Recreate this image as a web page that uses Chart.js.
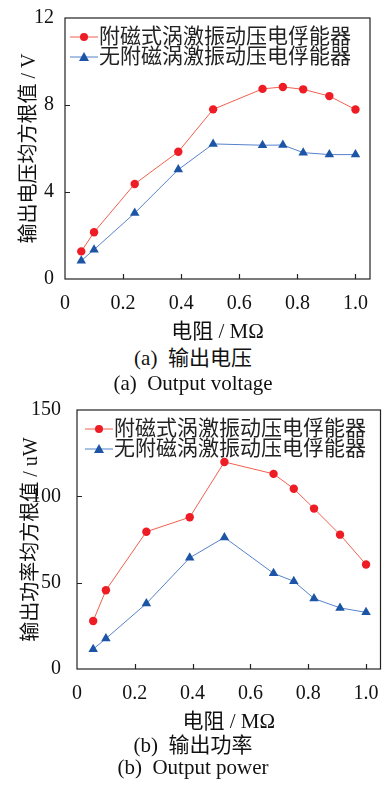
<!DOCTYPE html>
<html>
<head>
<meta charset="utf-8">
<script src="https://cdn.jsdelivr.net/npm/chart.js@4/dist/chart.umd.min.js"></script>
<style>
body{margin:0;background:#fff;width:386px;height:785px;position:relative;overflow:hidden;font-family:"Liberation Serif","Noto Sans CJK SC",serif;}
.box{position:absolute;left:0;width:386px;height:345px;}
.cap{position:absolute;left:0;width:386px;text-align:center;font-size:21px;color:#111;line-height:22px;}
</style>
</head>
<body>
<div class="box" style="top:0"><canvas id="c1" width="386" height="345"></canvas></div>
<div class="box" style="top:390px"><canvas id="c2" width="386" height="345"></canvas></div>
<div class="cap" style="top:347px">(a)&nbsp; 输出电压</div>
<div class="cap" style="top:372px">(a)&nbsp; Output voltage</div>
<div class="cap" style="top:734px">(b)&nbsp; 输出功率</div>
<div class="cap" style="top:756px">(b)&nbsp; Output power</div>
<script>
// resistance, MOhm
var resist = [0.056, 0.1, 0.24, 0.39, 0.51, 0.68, 0.75, 0.82, 0.91, 1.0];
var voltMag = [1.27, 2.15, 4.37, 5.85, 7.8, 8.74, 8.83, 8.72, 8.41, 7.79];
var voltNoMag = [0.84, 1.35, 3.03, 5.03, 6.21, 6.15, 6.16, 5.81, 5.72, 5.72];
var powMag = [27.8, 45.6, 79.5, 87.9, 119.9, 113, 104.4, 92.9, 77.8, 60.5];
var powNoMag = [11.5, 17.6, 37.9, 64.4, 76.2, 55.4, 50.8, 40.8, 35.4, 32.8];
var names = ['附磁式涡激振动压电俘能器', '无附磁涡激振动压电俘能器'];

var FONT = '"Liberation Serif", "Noto Sans CJK SC", serif';

function pts(xs, ys){
  return xs.map(function(x, i){ return {x: x, y: ys[i]}; });
}

// box, inward ticks and legend inside the plot
var decor = {
  id: 'decor',
  afterDraw: function(chart){
    var c = chart.ctx, a = chart.chartArea, o = chart.options.plugins.decor;
    var xs = chart.scales.x, ys = chart.scales.y;
    c.save();
    c.strokeStyle = '#222';
    c.lineWidth = 1.2;
    c.strokeRect(a.left, a.top, a.right - a.left, a.bottom - a.top);
    c.beginPath();
    [0.2, 0.4, 0.6, 0.8, 1.0].forEach(function(v){
      var px = Math.round(xs.getPixelForValue(v)) + 0.5;
      c.moveTo(px, a.bottom); c.lineTo(px, a.bottom - 5);
    });
    o.yTicks.forEach(function(v){
      var py = Math.round(ys.getPixelForValue(v)) + 0.5;
      c.moveTo(a.left, py); c.lineTo(a.left + 5, py);
    });
    c.stroke();
    // legend
    c.font = '21px ' + FONT;
    c.textBaseline = 'middle';
    chart.data.datasets.forEach(function(ds, i){
      var y = a.top + o.legTop + i * 20;
      var x0 = a.left + o.legLeft;
      c.strokeStyle = ds.borderColor;
      c.lineWidth = 1;
      c.beginPath(); c.moveTo(x0, y); c.lineTo(x0 + 28, y); c.stroke();
      c.fillStyle = ds.pointBackgroundColor;
      c.beginPath();
      if (ds.pointStyle === 'triangle') {
        c.moveTo(x0 + 14, y - 5); c.lineTo(x0 + 19, y + 4); c.lineTo(x0 + 9, y + 4); c.closePath();
      } else {
        c.arc(x0 + 14, y, 4, 0, Math.PI * 2);
      }
      c.fill();
      c.fillStyle = '#222';
      c.fillText(ds.label, x0 + 29, y);
    });
    c.restore();
  }
};

function makeChart(id, a, b, yMax, yStep, yTitle, leftPad, yWidth, yPad, rightPad, yTicks, legLeft){
  return new Chart(document.getElementById(id), {
    type: 'line',
    data: {
      datasets: [
        {label: names[0], data: pts(resist, a), borderColor: '#f0604c', borderWidth: 1,
         pointBackgroundColor: '#ee1c24', pointBorderColor: '#ee1c24', pointStyle: 'circle',
         pointRadius: 4.2, pointBorderWidth: 0},
        {label: names[1], data: pts(resist, b), borderColor: '#5582cc', borderWidth: 1,
         pointBackgroundColor: '#1c55a6', pointBorderColor: '#1c55a6', pointStyle: 'triangle',
         pointRadius: 5.5, pointBorderWidth: 0}
      ]
    },
    options: {
      responsive: false,
      animation: false,
      layout: {padding: {left: leftPad, right: rightPad, top: 18, bottom: 0}},
      plugins: {
        legend: {display: false},
        tooltip: {enabled: false},
        decor: {yTicks: yTicks, legTop: 19, legLeft: legLeft}
      },
      scales: {
        x: {
          type: 'linear', min: 0, max: 1.05,
          border: {display: false},
          grid: {display: false},
          ticks: {stepSize: 0.2, includeBounds: false, padding: 5, color: '#111',
                  font: {family: FONT, size: 20},
                  callback: function(v){ return v === 0 ? '0' : v.toFixed(1); }},
          title: {display: true, text: '电阻 / MΩ', color: '#111', padding: {top: 2, bottom: 0},
                  font: {family: FONT, size: 21}},
          afterFit: function(s){ s.height = 66; }
        },
        y: {
          min: 0, max: yMax,
          border: {display: false},
          grid: {display: false},
          ticks: {stepSize: yStep, padding: yPad, color: '#111', font: {family: FONT, size: 20}},
          title: {display: true, text: yTitle, color: '#111', padding: 0,
                  font: {family: FONT, size: 20}},
          afterFit: function(s){ s.width = yWidth; }
        }
      }
    },
    plugins: [decor]
  });
}

makeChart('c1', voltMag, voltNoMag, 12, 4, '输出电压均方根值 / V', 18, 47, 3, 16, [4, 8], 5);
makeChart('c2', powMag, powNoMag, 150, 50, '输出功率均方根值 / uW', 20, 57, 8, 5, [50, 100], 8);
</script>
</body>
</html>
